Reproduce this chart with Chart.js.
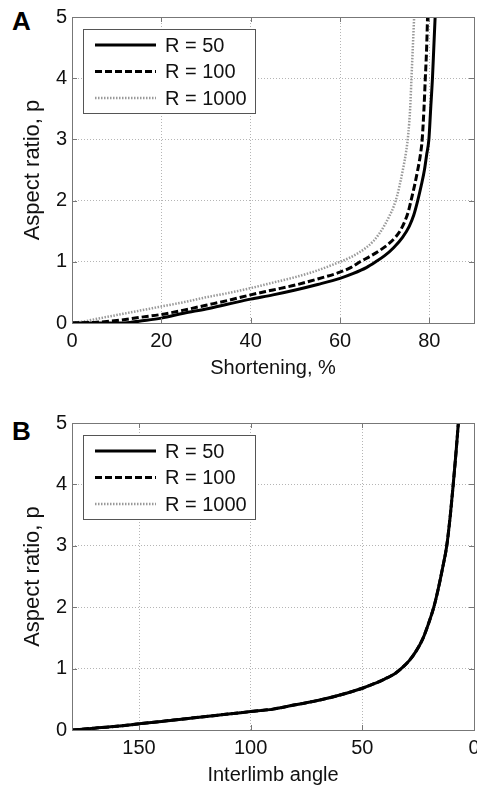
<!DOCTYPE html>
<html>
<head>
<meta charset="utf-8">
<script src="https://cdn.jsdelivr.net/npm/chart.js@4"></script>
<style>
  html, body { margin: 0; padding: 0; background: #fff; overflow: hidden; width: 477px; height: 788px; }
  .panel { position: absolute; left: 0; }
  .letter { position: absolute; left: 12px; font: bold 26px 'Liberation Sans', Arial, sans-serif; line-height: 1; color: #000; }
</style>
</head>
<body>
<div class="letter" style="top:8px">A</div>
<div class="letter" style="top:418px">B</div>
<canvas id="chartA" class="panel" style="top:0" width="490" height="390"></canvas>
<canvas id="chartB" class="panel" style="top:390px" width="490" height="407"></canvas>
<script>
const seriesLabels = ['R = 50', 'R = 100', 'R = 1000'];

// panel A: shortening (%) vs aspect ratio
const shorteningR50 = [0, 5, 10, 13, 15, 20, 25, 30, 35, 40, 45, 50, 55, 60, 63, 66, 68, 70, 72, 74, 75.5, 76.5, 77.4, 78.2, 78.9, 79.4, 79.9, 80.3, 80.7, 81.0, 81.3];
const aspectR50 = [0, 0, 0, 0.01, 0.03, 0.08, 0.16, 0.23, 0.31, 0.39, 0.46, 0.54, 0.63, 0.73, 0.81, 0.91, 1.0, 1.1, 1.23, 1.4, 1.58, 1.76, 2.0, 2.25, 2.5, 2.75, 3.0, 3.5, 4.0, 4.5, 5.0];

const shorteningR100 = [0, 5, 10, 15, 20, 25, 30, 35, 40, 45, 50, 55, 60, 62.5, 64.5, 67, 69, 71, 72.5, 73.5, 74.5, 75.3, 75.9, 76.7, 77.4, 78.0, 78.4, 78.8, 79.1, 79.4, 79.6];
const aspectR100 = [0, 0.01, 0.04, 0.09, 0.14, 0.21, 0.29, 0.37, 0.46, 0.54, 0.62, 0.72, 0.83, 0.91, 1.0, 1.1, 1.19, 1.3, 1.41, 1.51, 1.66, 1.82, 2.0, 2.25, 2.5, 2.75, 3.0, 3.5, 4.0, 4.5, 5.0];

const shorteningR1000 = [0, 3, 5, 10, 15, 20, 25, 30, 35, 40, 45, 50, 55, 60, 62, 64, 66, 67.5, 68.8, 70, 71, 72, 72.8, 73.5, 74.2, 74.8, 75.3, 75.7, 76.0, 76.3, 76.6];
const aspectR1000 = [0, 0.03, 0.06, 0.13, 0.2, 0.27, 0.34, 0.42, 0.49, 0.57, 0.66, 0.75, 0.86, 1.0, 1.06, 1.14, 1.24, 1.34, 1.46, 1.6, 1.74, 1.9, 2.08, 2.3, 2.55, 2.8, 3.1, 3.5, 4.0, 4.5, 5.0];

// panel B: interlimb angle vs aspect ratio (the three curves coincide)
const angleR50 = [180, 170, 160, 150, 140, 130, 120, 110, 100, 90, 80, 70, 60, 50, 45, 40, 35, 32, 29, 26, 23, 20.5, 18, 16, 14, 12.2, 10.6, 9.3, 8.1, 7.0];
const angleAspectR50 = [0, 0.03, 0.06, 0.1, 0.14, 0.18, 0.22, 0.26, 0.3, 0.34, 0.41, 0.48, 0.57, 0.68, 0.75, 0.83, 0.93, 1.02, 1.13, 1.28, 1.48, 1.72, 2.0, 2.3, 2.65, 3.0, 3.5, 4.0, 4.5, 5.0];
const angleR100 = angleR50;
const angleAspectR100 = angleAspectR50;
const angleR1000 = angleR50;
const angleAspectR1000 = angleAspectR50;

const shorteningTicks = [0, 20, 40, 60, 80];
const angleTicks = [150, 100, 50, 0];
const aspectTicks = [0, 1, 2, 3, 4, 5];

const FONT = "'Liberation Sans', Arial, sans-serif";
const TEXT = '#111';

function pts(xs, ys) {
    return xs.map((x, i) => ({ x: x, y: ys[i] }));
}

const lineStyles = [
    { borderColor: '#000', borderWidth: 3, borderDash: [] },
    { borderColor: '#000', borderWidth: 3, borderDash: [7, 3] },
    { borderColor: '#999', borderWidth: 2.5, borderDash: [1.5, 1.5] }
];

function makeDatasets(pairs) {
    return pairs.map((p, i) => Object.assign({
        label: seriesLabels[i],
        data: pts(p[0], p[1]),
        pointRadius: 0,
        fill: false,
        cubicInterpolationMode: 'monotone'
    }, lineStyles[i]));
}

// boxed legend in the top-left corner of the plot, matlab style
const boxLegend = {
    id: 'boxLegend',
    afterDraw(chart) {
        const ctx = chart.ctx;
        const a = chart.chartArea;
        const bx = a.left + 11, by = a.top + 12;
        ctx.save();
        ctx.fillStyle = '#fff';
        ctx.fillRect(bx, by, 172, 84);
        ctx.strokeStyle = '#555';
        ctx.lineWidth = 1;
        ctx.strokeRect(bx + 0.5, by + 0.5, 172, 84);
        const rows = [16, 42.5, 69];
        chart.data.datasets.forEach((ds, i) => {
            const y = by + rows[i];
            ctx.beginPath();
            ctx.strokeStyle = ds.borderColor;
            ctx.lineWidth = ds.borderWidth;
            ctx.setLineDash(ds.borderDash);
            ctx.moveTo(bx + 12, y);
            ctx.lineTo(bx + 73, y);
            ctx.stroke();
            ctx.setLineDash([]);
            ctx.fillStyle = TEXT;
            ctx.font = '20px ' + FONT;
            ctx.textBaseline = 'middle';
            ctx.fillText(ds.label, bx + 82, y + 1);
        });
        ctx.restore();
    }
};

// box round the plot with small inward tick marks
const frame = {
    id: 'frame',
    afterDatasetsDraw(chart) {
        const ctx = chart.ctx;
        const a = chart.chartArea;
        ctx.save();
        ctx.strokeStyle = '#777';
        ctx.lineWidth = 1;
        ctx.strokeRect(a.left + 0.5, a.top + 0.5, a.right - a.left, a.bottom - a.top);
        ctx.beginPath();
        chart.scales.x.ticks.forEach(t => {
            const x = Math.round(chart.scales.x.getPixelForValue(t.value)) + 0.5;
            ctx.moveTo(x, a.bottom); ctx.lineTo(x, a.bottom - 5);
            ctx.moveTo(x, a.top); ctx.lineTo(x, a.top + 5);
        });
        chart.scales.y.ticks.forEach(t => {
            const y = Math.round(chart.scales.y.getPixelForValue(t.value)) + 0.5;
            ctx.moveTo(a.left, y); ctx.lineTo(a.left + 5, y);
            ctx.moveTo(a.right, y); ctx.lineTo(a.right - 5, y);
        });
        ctx.stroke();
        ctx.restore();
    }
};

function makeOptions(xTitle, xMin, xMax, xTicks, reverse, topPad) {
    return {
        responsive: false,
        animation: false,
        layout: { padding: { left: 0, right: 16, top: topPad, bottom: 0 } },
        plugins: { legend: { display: false }, tooltip: { enabled: false } },
        scales: {
            x: {
                type: 'linear',
                min: xMin,
                max: xMax,
                reverse: reverse,
                afterBuildTicks: s => { s.ticks = xTicks.map(v => ({ value: v })); },
                afterFit: s => { s.height = 67; },
                grid: { color: '#b5b5b5', lineWidth: 1, drawTicks: false },
                border: { display: false, dash: [1, 2] },
                ticks: { color: TEXT, font: { family: FONT, size: 20 }, padding: 6, maxRotation: 0 },
                title: { display: true, text: xTitle, color: TEXT, font: { family: FONT, size: 20 }, padding: { top: 0, bottom: 10 } }
            },
            y: {
                min: 0,
                max: 5,
                afterBuildTicks: s => { s.ticks = aspectTicks.map(v => ({ value: v })); },
                afterFit: s => { s.width = 72; },
                grid: { color: '#b5b5b5', lineWidth: 1, drawTicks: false },
                border: { display: false, dash: [1, 2] },
                ticks: { color: TEXT, font: { family: FONT, size: 20 }, padding: 5 },
                title: { display: true, text: 'Aspect ratio, p', color: TEXT, font: { family: FONT, size: 22 }, padding: { top: 20, bottom: 0 } }
            }
        }
    };
}

new Chart(document.getElementById('chartA').getContext('2d'), {
    type: 'line',
    data: {
        datasets: makeDatasets([
            [shorteningR50, aspectR50],
            [shorteningR100, aspectR100],
            [shorteningR1000, aspectR1000]
        ])
    },
    options: makeOptions('Shortening, %', 0, 90, shorteningTicks, false, 15),
    plugins: [frame, boxLegend]
});

new Chart(document.getElementById('chartB').getContext('2d'), {
    type: 'line',
    data: {
        datasets: makeDatasets([
            [angleR50, angleAspectR50],
            [angleR100, angleAspectR100],
            [angleR1000, angleAspectR1000]
        ])
    },
    options: makeOptions('Interlimb angle', 0, 180, angleTicks, true, 33),
    plugins: [frame, boxLegend]
});
</script>
</body>
</html>
